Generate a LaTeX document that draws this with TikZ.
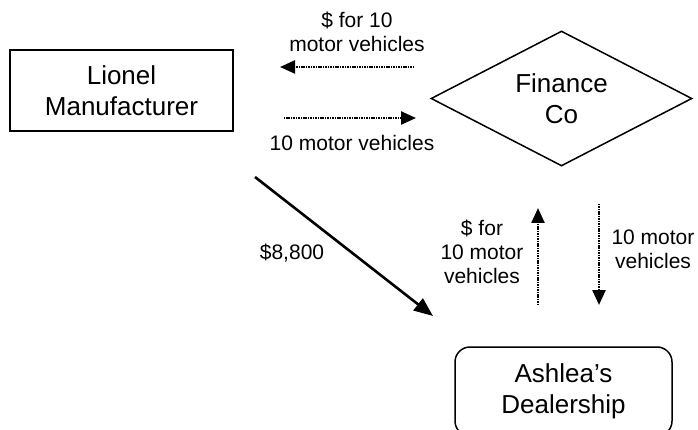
\documentclass[tikz,border=0pt]{standalone}
\usepackage{fontspec}
\setmainfont{Liberation Sans}
\usetikzlibrary{shapes.geometric,arrows.meta}
\begin{document}
\begin{tikzpicture}[x=1pt,y=-1pt,
  bigtext/.style={font=\fontsize{26}{30.5}\selectfont, align=center},
  smalltext/.style={font=\fontsize{21}{24}\selectfont, align=center, inner sep=0pt},
  boxshape/.style={draw, line width=1.5pt, inner sep=0pt},
  dotflow/.style={line width=2.4pt, dash pattern=on 1.1pt off 0.6pt, -{Triangle[length=15pt,width=13pt]}},
  solidflow/.style={line width=2.6pt, -{Triangle[length=19pt,width=15pt]}}]
\useasboundingbox (0,0) rectangle (698,430);
\fill[white] (0,0) rectangle (698,430);
% nodes
\node[boxshape, bigtext, minimum width=223pt, minimum height=81pt] (lio) at (121.5,90.5) {Lionel\\Manufacturer};
\node[boxshape, bigtext, diamond, aspect=1.94, minimum width=261pt, minimum height=135pt] (fin) at (561.5,98.5) {Finance\\Co};
\node[boxshape, bigtext, rounded corners=15pt, minimum width=217pt, minimum height=89pt] (ash) at (563.5,391.5) {Ashlea’s\\Dealership};
% connector end points
\coordinate (t1) at (414,67);
\coordinate (t2) at (280,67);
\coordinate (b1) at (284,118);
\coordinate (b2) at (416,118);
\coordinate (d1) at (255,177);
\coordinate (d2) at (433,316);
\coordinate (u1) at (538,305);
\coordinate (u2) at (538,208);
\coordinate (v1) at (599,204);
\coordinate (v2) at (599,305);
% connectors
\draw[dotflow] (t1) -- (t2);
\draw[dotflow] (b1) -- (b2);
\draw[solidflow] (d1) -- (d2);
\draw[dotflow] (u1) -- (u2);
\draw[dotflow] (v1) -- (v2);
% labels
\node[smalltext] (l1) at (357,31.5) {\$ for 10\\motor vehicles};
\node[smalltext] (l2) at (352,143) {10 motor vehicles};
\node[smalltext] (l3) at (292,253) {\$8,800};
\node[smalltext] (l4) at (482,252) {\$ for\\10 motor\\vehicles};
\node[smalltext] (l5) at (653,249) {10 motor\\vehicles};
\end{tikzpicture}
\end{document}
